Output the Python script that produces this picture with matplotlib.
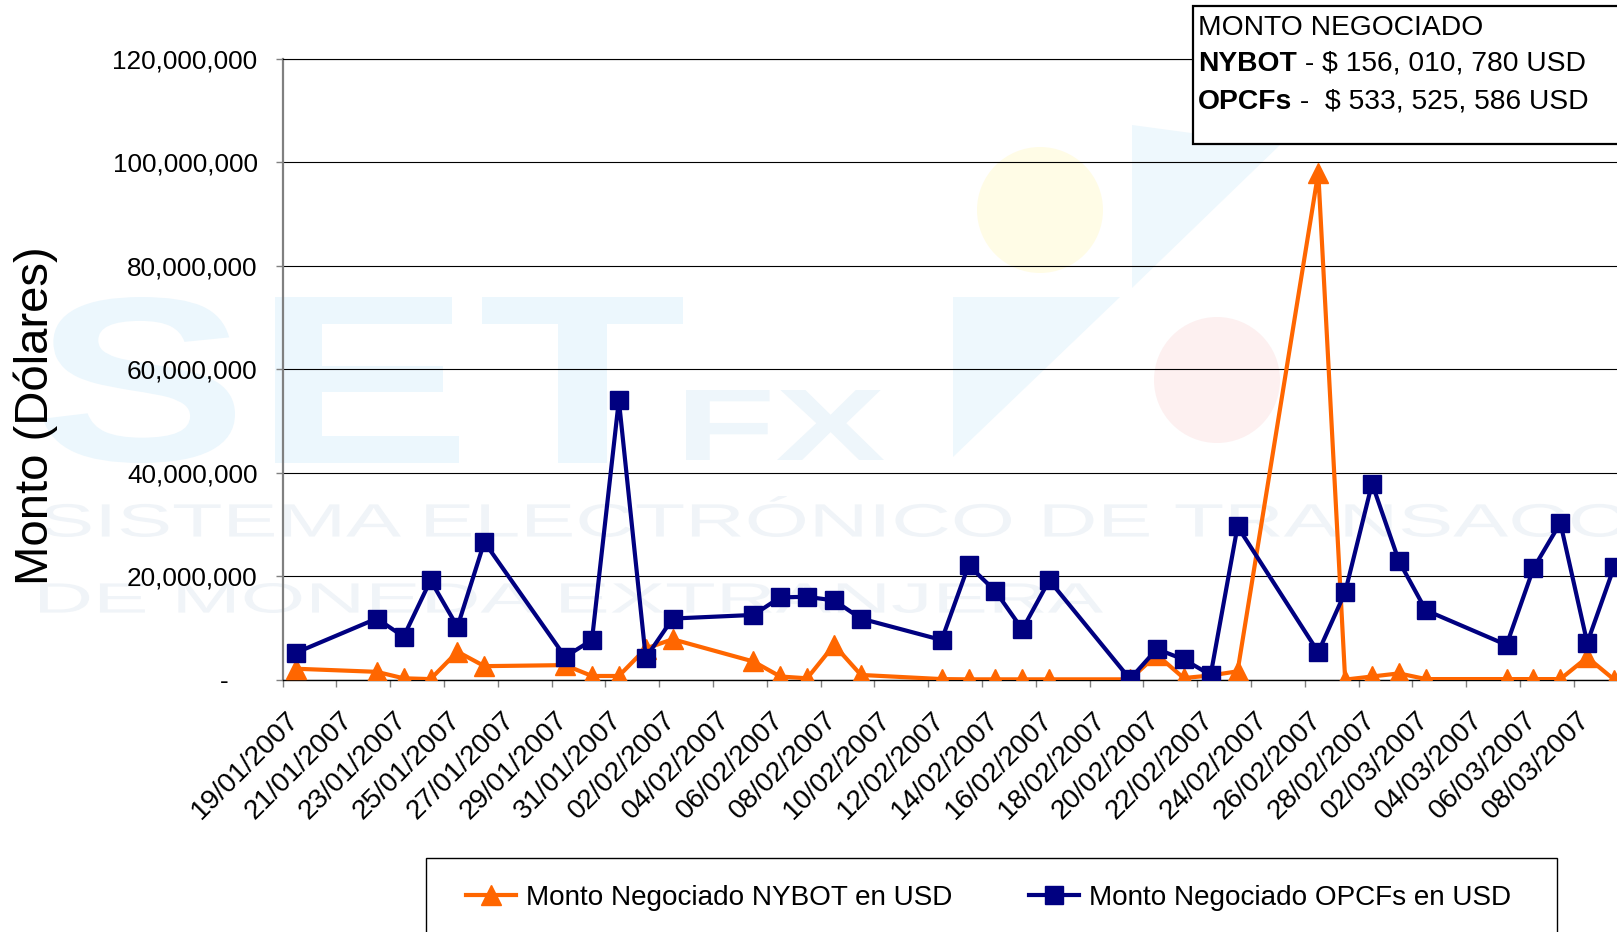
import numpy as np
import pandas as pd
import matplotlib
matplotlib.use("Agg")
import matplotlib.pyplot as plt
import matplotlib.dates as mdates
from matplotlib.lines import Line2D
from matplotlib.patches import Rectangle, Circle, Polygon, PathPatch
from matplotlib.textpath import TextPath
from matplotlib.font_manager import FontProperties
from matplotlib.transforms import Affine2D, ScaledTranslation
from matplotlib.ticker import FuncFormatter, FixedLocator

plt.rcParams['font.family'] = ['Liberation Sans', 'DejaVu Sans']

# trading days (weekdays only)
fechas = ["19/01/2007", "22/01/2007", "23/01/2007", "24/01/2007", "25/01/2007", "26/01/2007",
          "29/01/2007", "30/01/2007", "31/01/2007", "01/02/2007", "02/02/2007",
          "05/02/2007", "06/02/2007", "07/02/2007", "08/02/2007", "09/02/2007",
          "12/02/2007", "13/02/2007", "14/02/2007", "15/02/2007", "16/02/2007",
          "19/02/2007", "20/02/2007", "21/02/2007", "22/02/2007", "23/02/2007",
          "26/02/2007", "27/02/2007", "28/02/2007", "01/03/2007", "02/03/2007",
          "05/03/2007", "06/03/2007", "07/03/2007", "08/03/2007", "09/03/2007"]

# montos en millones de USD
nybot = [2.1, 1.5, 0.25, 0.1, 5.4, 2.6,
         2.8, 0.7, 0.7, 6.0, 7.8,
         3.5, 0.6, 0.25, 6.7, 0.9,
         0.1, 0.05, 0.05, 0.05, 0.05,
         0.05, 4.8, 0.3, 0.8, 1.6,
         98.0, 0.0, 0.6, 1.2, 0.1,
         0.1, 0.1, 0.1, 4.3, 0.0]
opcfs = [5.2, 11.8, 8.3, 19.2, 10.2, 26.6,
         4.4, 7.65, 54.0, 4.2, 11.8,
         12.5, 15.9, 16.0, 15.3, 11.8,
         7.65, 22.1, 17.1, 9.7, 19.2,
         0.1, 5.9, 3.9, 0.9, 29.6,
         5.3, 16.9, 37.9, 22.9, 13.4,
         6.7, 21.5, 30.3, 7.1, 21.8]

nombres = ["Monto Negociado NYBOT en USD", "Monto Negociado OPCFs en USD"]
caja_titulo = "MONTO NEGOCIADO"
caja_nybot = ("NYBOT", r" - \$ 156, 010, 780 USD")
caja_opcfs = ("OPCFs", r" -  \$ 533, 525, 586 USD")

W, H = 1617, 932
fig = plt.figure(figsize=(W / 100, H / 100), dpi=100)

# faint SET FX watermark behind the plot
bg = fig.add_axes([0, 0, 1, 1], zorder=-1)
bg.set_xlim(0, W)
bg.set_ylim(0, H)
bg.axis('off')


def stamp(s, x0, y0, x1, y1, color, bold=False):
    fp = FontProperties(family='Liberation Sans', weight='bold' if bold else 'normal')
    tp = TextPath((0, 0), s, size=100, prop=fp)
    ext = tp.get_extents()
    tr = (Affine2D().translate(-ext.x0, -ext.y0)
          .scale((x1 - x0) / ext.width, (y1 - y0) / ext.height)
          .translate(x0, H - y1))
    bg.add_patch(PathPatch(tr.transform_path(tp), fc=color, ec='none'))


wm_blue = '#ecf7fd'
wm_text = '#f0f4f8'
stamp("S", 43, 297, 235, 463, wm_blue, True)
stamp("E", 275, 297, 459, 463, wm_blue, True)
stamp("T", 482, 297, 683, 463, wm_blue, True)
stamp("FX", 686, 390, 884, 460, '#eef6fb', True)
stamp("SISTEMA ELECTRÓNICO DE TRANSACCIONES", 43, 496, 1880, 537, wm_text)
stamp("DE MONEDA EXTRANJERA", 40, 583, 1103, 613, wm_text)
bg.add_patch(Circle((1040, H - 210), 63, fc='#fffce6', ec='none'))
bg.add_patch(Circle((1217, H - 380), 63, fc='#fdf0f0', ec='none'))
bg.add_patch(Polygon([(953, H - 297), (1120, H - 297), (953, H - 457)], fc='#eef8fd', ec='none'))
bg.add_patch(Polygon([(1132, H - 125), (1280, H - 145), (1132, H - 288)], fc='#eef8fd', ec='none'))

# main chart
ax = fig.add_axes([282.6 / W, (H - 679.6) / H, 1345 / W, (679.6 - 58.8) / H])
ax.set_facecolor('none')

x = pd.to_datetime(fechas, dayfirst=True)
y1 = np.array(nybot) * 1e6
y2 = np.array(opcfs) * 1e6

ax.plot(x, y1, color='#ff6600', lw=3, marker='^', ms=14, zorder=3)
ax.plot(x, y2, color='#000080', lw=3, marker='s', ms=12.5, zorder=4)

half = pd.Timedelta(hours=12)
ax.set_xlim(x[0] - half, x[-1] + half)
ax.set_ylim(0, 120e6)

ax.set_yticks(np.arange(0, 120e6 + 1, 20e6))
ax.yaxis.set_major_formatter(FuncFormatter(lambda v, p: '-    ' if v == 0 else f'{v:,.0f}'))
ax.grid(axis='y', color='black', lw=0.8)
ax.set_axisbelow(True)

etiquetas = pd.date_range('2007-01-19', '2007-03-08', freq='2D')
ax.set_xticks(etiquetas)
ax.set_xticklabels([d.strftime('%d/%m/%Y') for d in etiquetas])
marcas = pd.date_range(x[0] - half, x[-1] + half, freq='2D')
ax.xaxis.set_minor_locator(FixedLocator(mdates.date2num(marcas)))
ax.tick_params(axis='x', which='major', length=0, pad=19.5, labelsize=20.2)
ax.tick_params(axis='x', which='minor', length=5, width=1, color='#808080', direction='out')
ax.tick_params(axis='y', length=5, width=1, color='#808080', pad=13, labelsize=18.8)
off = ScaledTranslation(-10 / 100, 0, fig.dpi_scale_trans)
for lab in ax.get_xticklabels():
    lab.set_rotation(45)
    lab.set_ha('right')
    lab.set_va('top')
    lab.set_rotation_mode('anchor')
    lab.set_transform(lab.get_transform() + off)

ax.spines['left'].set_color('#808080')
ax.spines['left'].set_linewidth(1.6)
ax.spines['bottom'].set_color('black')
ax.spines['bottom'].set_linewidth(1)
ax.spines['top'].set_color('black')
ax.spines['top'].set_linewidth(0.8)
ax.spines['right'].set_visible(False)

fig.text(36 / W, 1 - 416 / H, "Monto (Dólares)", rotation=90, ha='center', va='center', fontsize=34)

# summary box (top right)
fig.patches.append(Rectangle((1193 / W, 1 - 144 / H), 0.5, 138 / H, transform=fig.transFigure,
                             fc='white', ec='black', lw=1.6, zorder=5))
fig.text(1198 / W, 1 - 28 / H, caja_titulo, ha='left', va='center', fontsize=20.3, zorder=6)
for (neg, resto), yy in [(caja_nybot, 64), (caja_opcfs, 102)]:
    t = fig.text(1198 / W, 1 - yy / H, neg, ha='left', va='center', fontsize=20.3,
                 fontweight='bold', zorder=6)
    fig.add_artist(plt.Annotation(resto, xy=(1, 0.5), xycoords=t, ha='left', va='center',
                                  fontsize=20.3, zorder=6))

# legend box at the bottom
fig.patches.append(Rectangle((426 / W, -0.05), (1557 - 426) / W, 0.05 + (H - 858) / H,
                             transform=fig.transFigure, fc='white', ec='black', lw=1, zorder=5))
handles = [Line2D([], [], color='#ff6600', lw=3, marker='^', ms=14),
           Line2D([], [], color='#000080', lw=3, marker='s', ms=12.5)]
leg = fig.legend(handles, nombres, loc='center left', bbox_to_anchor=(466 / W, 1 - 898 / H),
                 ncol=2, frameon=False, fontsize=20.1, borderpad=0, borderaxespad=0,
                 handlelength=1.8, handletextpad=0.34, columnspacing=2.75)
leg.set_zorder(6)

fig.savefig("out.png", dpi=100)
